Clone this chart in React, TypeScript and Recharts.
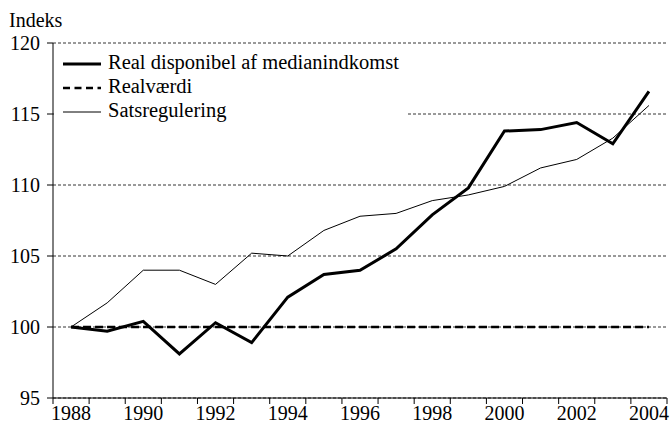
import React from "react";
import { LineChart, Line, XAxis, YAxis, CartesianGrid } from "recharts";

const years = [1988, 1989, 1990, 1991, 1992, 1993, 1994, 1995, 1996, 1997, 1998, 1999, 2000, 2001, 2002, 2003, 2004];
const realDisponibel = [100, 99.7, 100.4, 98.1, 100.3, 98.9, 102.1, 103.7, 104.0, 105.5, 107.9, 109.8, 113.8, 113.9, 114.4, 112.9, 116.6];
const realvaerdi = [100, 100, 100, 100, 100, 100, 100, 100, 100, 100, 100, 100, 100, 100, 100, 100, 100];
const satsregulering = [100, 101.7, 104.0, 104.0, 103.0, 105.2, 105.0, 106.8, 107.8, 108.0, 108.9, 109.3, 109.9, 111.2, 111.8, 113.3, 115.6];
const xLabels = [1988, 1990, 1992, 1994, 1996, 1998, 2000, 2002, 2004];
const yTicks = [95, 100, 105, 110, 115, 120];

const seriesNames = ["Real disponibel af medianindkomst", "Realværdi", "Satsregulering"];
const yTitle = "Indeks";

const data = years.map((year, i) => ({
  year,
  a: realDisponibel[i],
  b: realvaerdi[i],
  c: satsregulering[i],
}));

const boundaries = [...years.map((y) => y - 0.5), years[years.length - 1] + 0.5];

const W = 671;
const H = 425;
const MARGIN = { top: 43, right: 4, bottom: 0, left: 0 };
const YW = 53;
const plotW = W - MARGIN.left - MARGIN.right - YW;
const halfCat = plotW / years.length / 2;

const FONT = "'Liberation Serif', 'Times New Roman', Times, serif";
const FS = 20;
const LFS = 20.5;

const XTick = (props: any) => {
  const { x, y, payload } = props;
  const center = payload.value + 0.5;
  if (!xLabels.includes(center)) return null;
  return (
    <text x={x + halfCat} y={y} dy="0.71em" textAnchor="middle" fill="#000" fontSize={FS} fontFamily={FONT}>
      {center}
    </text>
  );
};

const YTick = (props: any) => {
  const { x, y, payload } = props;
  return (
    <text x={x - 5} y={y} dy="0.355em" textAnchor="end" fill="#000" fontSize={FS} fontFamily={FONT}>
      {payload.value}
    </text>
  );
};

const legendItems = [
  { name: seriesNames[0], w: 3, dash: undefined as string | undefined },
  { name: seriesNames[1], w: 2.5, dash: "7 4.5" },
  { name: seriesNames[2], w: 1, dash: undefined },
];

export default function App() {
  return (
    <div style={{ position: "absolute", left: 0, top: 0, width: W, height: H, background: "#fff" }}>
      <LineChart width={W} height={H} data={data} margin={MARGIN}>
        <CartesianGrid horizontal vertical={false} stroke="#000" strokeDasharray="3 2" strokeWidth={0.8} />
        <XAxis
          dataKey="year"
          type="number"
          domain={[boundaries[0], boundaries[boundaries.length - 1]]}
          ticks={boundaries}
          interval={0}
          height={27}
          axisLine={{ stroke: "#000", strokeWidth: 1 }}
          tickLine={{ stroke: "#000", strokeWidth: 1 }}
          tickSize={6}
          tick={<XTick />}
        />
        <YAxis
          domain={[95, 120]}
          ticks={yTicks}
          width={YW}
          interval={0}
          axisLine={{ stroke: "#000", strokeWidth: 1 }}
          tickLine={{ stroke: "#000", strokeWidth: 1 }}
          tickSize={6}
          tick={<YTick />}
        />
        <Line dataKey="b" name={seriesNames[1]} stroke="#000" strokeWidth={2.5} strokeDasharray="8 4" dot={false} isAnimationActive={false} />
        <Line dataKey="c" name={seriesNames[2]} stroke="#000" strokeWidth={1} dot={false} isAnimationActive={false} />
        <Line dataKey="a" name={seriesNames[0]} stroke="#000" strokeWidth={3} dot={false} isAnimationActive={false} />
      </LineChart>
      <div style={{ position: "absolute", left: 9, top: 9, fontFamily: FONT, fontSize: FS, color: "#000", lineHeight: "22px" }}>
        {yTitle}
      </div>
      <div style={{ position: "absolute", left: 54, top: 50, width: 353, height: 72, background: "#fff", paddingLeft: 9, boxSizing: "border-box" }}>
        {legendItems.map((it) => (
          <div key={it.name} style={{ display: "flex", alignItems: "flex-start", height: 24 }}>
            <svg width={38} height={24} style={{ marginRight: 7, display: "block" }}>
              <line x1={0} x2={38} y1={14} y2={14} stroke="#000" strokeWidth={it.w} strokeDasharray={it.dash} />
            </svg>
            <span style={{ fontFamily: FONT, fontSize: LFS, color: "#000", lineHeight: "24px", whiteSpace: "nowrap" }}>{it.name}</span>
          </div>
        ))}
      </div>
    </div>
  );
}
